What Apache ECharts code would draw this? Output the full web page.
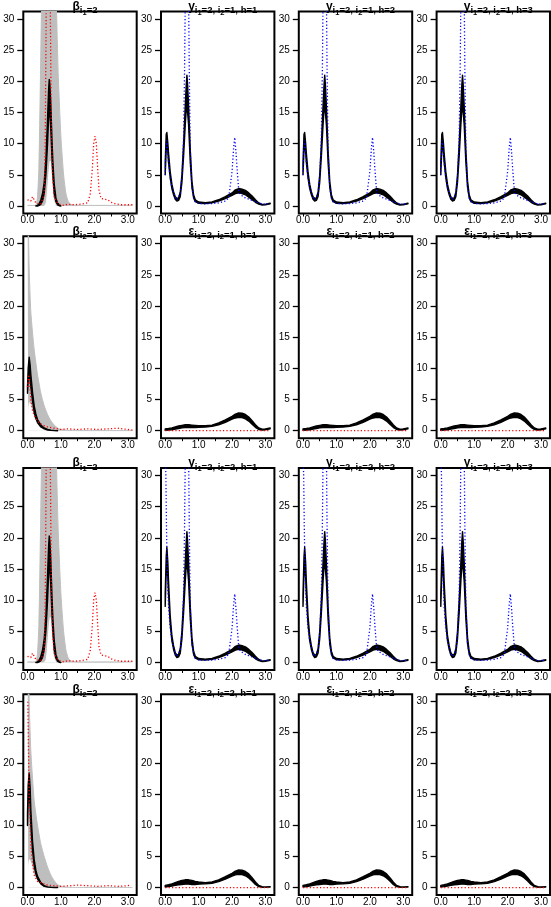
<!DOCTYPE html>
<html>
<head>
<meta charset="utf-8">
<script src="https://cdn.jsdelivr.net/npm/echarts@6/dist/echarts.min.js"></script>
<style>
  html, body { margin: 0; background: #fff; }
  #chart { width: 551px; height: 907px; }
</style>
</head>
<body>
<div id="chart"></div>
<script>
// axis ticks
const xTickVals = [0, 0.5, 1, 1.5, 2, 2.5, 3];
const xLabelVals = [0, 1, 2, 3];
const yTickVals = [0, 5, 10, 15, 20, 25, 30];

// beta_{i1=2}: grey band, white lower part, black draws, red dotted truth
const betaAX = [0, 0.1, 0.2, 0.26, 0.3, 0.34, 0.38, 0.42, 0.5, 0.65, 0.8, 0.87, 0.92, 1.0, 1.08, 1.15, 1.22, 1.3, 1.5, 2.0, 2.5, 3.14];
const betaAUp = [0.1, 0.1, 0.1, 0.2, 1.5, 6, 18, 32, 50, 60, 45, 31, 21, 11, 5, 2, 0.7, 0.25, 0.1, 0.1, 0.1, 0.1];
const betaALowX = [0.5, 0.56, 0.6, 0.65, 0.68, 0.72, 0.78, 0.85];
const betaALow = [0, 0.5, 2.5, 6, 7.2, 4.5, 1, 0];
const betaABlkX = [0.25, 0.3, 0.35, 0.4, 0.45, 0.5, 0.55, 0.6, 0.63, 0.65, 0.67, 0.7, 0.73, 0.76, 0.8, 0.85, 0.9, 0.95, 1.0];
const betaABlkLo = [0, 0, 0.1, 0.3, 0.8, 2, 5, 10, 14, 15.5, 15, 12, 8, 5, 2, 0.7, 0.2, 0.05, 0];
const betaABlkHi = [0, 0.1, 0.4, 1.0, 2, 3.8, 7.5, 14, 18.5, 20.3, 19.5, 16, 11, 7, 3.5, 1.3, 0.5, 0.15, 0];
const betaATrueX = [0, 0.05, 0.1, 0.15, 0.2, 0.25, 0.3, 0.4, 0.5, 0.53, 0.56, 0.62, 0.68, 0.71, 0.75, 0.8, 0.9, 1.0, 1.1, 1.2, 1.4, 1.6, 1.8, 1.88, 1.94, 1.98, 2.02, 2.06, 2.1, 2.14, 2.2, 2.3, 2.4, 2.5, 2.6, 2.8, 3.0, 3.14];
const betaATrue = [1, 1.2, 0.8, 1.5, 1.2, 0.5, 0.2, 0.3, 2, 10, 32, 50, 34, 14, 5, 1.5, 0.5, 0.2, 0.1, 0.3, 0.2, 0.3, 0.5, 2, 6, 10, 11.2, 10, 6, 2.5, 1.2, 1.1, 1.0, 0.6, 0.4, 0.2, 0.2, 0.2];

// beta_{i2=1} and beta_{i2=2}: decaying densities
const betaBX = [0, 0.02, 0.05, 0.1, 0.2, 0.3, 0.4, 0.5, 0.6, 0.7, 0.8, 0.9, 1.0, 1.2, 1.5, 2.0, 2.5, 3.14];
const betaBUp1 = [45, 35, 26, 19, 13, 9, 6, 4, 2.6, 1.6, 0.9, 0.45, 0.2, 0.05, 0.02, 0.02, 0.02, 0.02];
const betaBUp2 = [50, 40, 30, 22, 14, 10, 7, 5, 3.3, 2, 1.1, 0.5, 0.2, 0.05, 0.02, 0.02, 0.02, 0.02];
const betaBLowX = [0, 0.03, 0.06, 0.1, 0.15, 0.2, 0.3, 0.4, 0.5, 0.7];
const betaBLow1 = [1, 3.5, 4.5, 4, 3, 2, 1, 0.5, 0.2, 0];
const betaBLow2 = [1, 3.5, 4.5, 4, 3, 2, 1, 0.4, 0.15, 0];
const betaBBlkX = [0, 0.02, 0.05, 0.08, 0.1, 0.15, 0.2, 0.25, 0.3, 0.4, 0.5, 0.6, 0.7, 0.8, 0.9];
const betaBBlkLo1 = [6, 8, 9, 8, 7, 4.8, 3.0, 2.0, 1.3, 0.6, 0.3, 0.12, 0.05, 0.02, 0];
const betaBBlkHi1 = [7, 10, 11.8, 10.5, 9, 6.2, 4.0, 2.7, 1.8, 0.9, 0.45, 0.2, 0.1, 0.03, 0];
const betaBBlkLo2 = [10, 14, 15, 13, 10, 6, 3.5, 2.2, 1.4, 0.6, 0.2, 0.08, 0.03, 0, 0];
const betaBBlkHi2 = [12, 16.5, 18.5, 16, 12.5, 7.5, 4.5, 2.8, 1.8, 0.8, 0.3, 0.12, 0.05, 0.01, 0];
const betaBTrueX1 = [0, 0.03, 0.05, 0.08, 0.1, 0.15, 0.2, 0.25, 0.3, 0.4, 0.5, 0.6, 0.8, 1.0, 1.2, 1.5, 1.8, 2.1, 2.4, 2.7, 3.0, 3.14];
const betaBTrue1 = [7, 9, 8.5, 6.5, 5, 3.2, 2.5, 2, 1.5, 1.1, 0.8, 0.6, 0.4, 0.2, 0.3, 0.2, 0.3, 0.2, 0.3, 0.4, 0.2, 0.1];
const betaBTrueX2 = [0.01, 0.03, 0.05, 0.08, 0.1, 0.15, 0.2, 0.3, 0.4, 0.5, 0.6, 0.8, 1.0, 1.3, 1.5, 1.8, 2.1, 2.4, 2.7, 3.0, 3.1];
const betaBTrue2 = [30, 22, 15, 10, 7, 4, 2, 1, 0.8, 0.6, 0.4, 0.3, 0.2, 0.3, 0.4, 0.3, 0.2, 0.3, 0.2, 0.3, 0.4];

// y panels: black draws band and blue dotted observed density
const yX = [0, 0.03, 0.05, 0.08, 0.1, 0.15, 0.2, 0.25, 0.3, 0.35, 0.4, 0.45, 0.5, 0.55, 0.6, 0.63, 0.65, 0.67, 0.7, 0.75, 0.8, 0.85, 0.9, 1.0, 1.2, 1.4, 1.6, 1.8, 2.0, 2.1, 2.2, 2.3, 2.4, 2.5, 2.6, 2.7, 2.8, 2.9, 3.0, 3.14];
const yLo1 = [5, 9, 10, 8.5, 7, 4.5, 2.8, 1.8, 1.1, 0.8, 0.9, 1.5, 3.8, 8, 13, 15.5, 15.5, 15, 13, 7, 3, 1.3, 0.7, 0.45, 0.4, 0.5, 0.8, 1.2, 1.7, 2.0, 2.1, 2.0, 1.8, 1.4, 1.0, 0.6, 0.3, 0.15, 0.2, 0.35];
const yHi1 = [7, 11.5, 11.8, 10, 8.5, 5.5, 3.5, 2.3, 1.5, 1.2, 1.3, 2.2, 5, 10, 16, 19.5, 21, 19.5, 16, 9, 4, 1.8, 1.0, 0.65, 0.55, 0.65, 1.0, 1.5, 2.1, 2.6, 2.8, 2.7, 2.5, 2.1, 1.6, 1.0, 0.5, 0.25, 0.3, 0.45];
const yLo2 = [9, 14.5, 15.5, 13.5, 11, 6.2, 3.5, 2.1, 1.2, 0.8, 0.9, 1.5, 3.8, 8, 13, 15.5, 15.5, 15, 13, 7, 3, 1.3, 0.7, 0.45, 0.4, 0.5, 0.8, 1.2, 1.7, 2.0, 2.1, 2.0, 1.8, 1.4, 1.0, 0.6, 0.3, 0.15, 0.2, 0.35];
const yHi2 = [11, 17, 18.5, 16, 13, 7.5, 4.3, 2.7, 1.6, 1.2, 1.3, 2.2, 5, 10, 16, 19.5, 21, 19.5, 16, 9, 4, 1.8, 1.0, 0.65, 0.55, 0.65, 1.0, 1.5, 2.1, 2.6, 2.8, 2.7, 2.5, 2.1, 1.6, 1.0, 0.5, 0.25, 0.3, 0.45];
const blueX = [0, 0.02, 0.04, 0.07, 0.1, 0.15, 0.2, 0.3, 0.35, 0.4, 0.45, 0.5, 0.55, 0.58, 0.6, 0.65, 0.7, 0.72, 0.75, 0.8, 0.85, 0.9, 1.0, 1.2, 1.4, 1.6, 1.8, 1.9, 2.0, 2.05, 2.08, 2.12, 2.15, 2.2, 2.25, 2.3, 2.4, 2.5, 2.6, 2.7, 2.8, 2.9, 3.0, 3.14];
const blue1 = [5, 9, 10.5, 9, 7, 4.5, 3, 1.5, 1.0, 1.1, 2, 4.5, 11, 22, 33, 45, 34, 22, 9, 3, 1.3, 0.7, 0.4, 0.35, 0.4, 0.5, 0.8, 1.3, 5.5, 9.5, 11, 8.5, 6, 2.5, 1.8, 1.6, 1.3, 1.1, 0.9, 0.7, 0.5, 0.3, 0.3, 0.4];
const blue2 = [34, 30, 21, 13, 9, 5.5, 3.5, 1.5, 1.0, 1.1, 2, 4.5, 11, 22, 33, 45, 34, 22, 9, 3, 1.3, 0.7, 0.4, 0.35, 0.4, 0.5, 0.8, 1.3, 5.5, 9.5, 11, 8.5, 6, 2.5, 1.8, 1.6, 1.3, 1.1, 0.9, 0.7, 0.5, 0.3, 0.3, 0.4];

// epsilon panels: black draws band, red dotted at zero
const epsX = [0, 0.1, 0.2, 0.3, 0.4, 0.5, 0.6, 0.7, 0.8, 0.9, 1.0, 1.2, 1.4, 1.6, 1.8, 2.0, 2.1, 2.2, 2.3, 2.4, 2.5, 2.6, 2.7, 2.8, 2.9, 3.0, 3.14];
const epsLo1 = [0.05, 0.1, 0.15, 0.25, 0.35, 0.45, 0.5, 0.5, 0.5, 0.5, 0.55, 0.6, 0.7, 0.95, 1.35, 1.85, 2.05, 2.15, 2.1, 1.9, 1.55, 1.05, 0.55, 0.2, 0.1, 0.15, 0.3];
const epsHi1 = [0.3, 0.35, 0.45, 0.6, 0.75, 0.85, 0.95, 0.95, 0.9, 0.85, 0.8, 0.8, 0.9, 1.25, 1.75, 2.3, 2.65, 2.85, 2.8, 2.6, 2.2, 1.6, 0.95, 0.45, 0.25, 0.3, 0.45];
const epsLo2 = [0.1, 0.15, 0.25, 0.35, 0.45, 0.5, 0.55, 0.55, 0.5, 0.5, 0.55, 0.6, 0.7, 0.95, 1.35, 1.85, 2.05, 2.15, 2.1, 1.9, 1.55, 1.05, 0.5, 0.15, 0.05, 0.05, 0.1];
const epsHi2 = [0.35, 0.45, 0.6, 0.8, 1.0, 1.15, 1.25, 1.25, 1.15, 1.0, 0.9, 0.8, 0.9, 1.25, 1.75, 2.3, 2.65, 2.85, 2.8, 2.6, 2.2, 1.6, 0.9, 0.35, 0.15, 0.1, 0.15];
const epsTrueX = [0, 1, 2, 3.14];
const epsTrue = [0, 0, 0, 0];

// layout
const colLeft = [23.3, 161, 298.8, 436.6];
const rowTop = [11.5, 236.2, 468, 694.2];
const PW = 113.4, PH = 202;
const FONT = 'Liberation Sans';

const pairs = (xs, ys) => xs.map((x, i) => [x, ys[i]]);

const grids = [], xAxes = [], yAxes = [], series = [], titles = [];

const area = (xs, ys, color) => ({
  type: 'line', data: pairs(xs, ys), showSymbol: false, smooth: 0.2, z: 2,
  lineStyle: { color, width: 1 }, areaStyle: { color, opacity: 1 }
});

// filled band between lo and hi, drawn as one polygon through the axes
const band = (xs, lo, hi) => ({
  type: 'custom', z: 3,
  data: xs.map((x, i) => [x, lo[i], hi[i]]),
  encode: { x: 0, y: [1, 2] },
  renderItem: (params, api) => {
    if (params.dataIndex !== 0) return null;
    const top = xs.map((x, i) => api.coord([x, hi[i]]));
    const bot = xs.map((x, i) => api.coord([x, lo[i]])).reverse();
    const pts = echarts.graphic.clipPointsByRect(top.concat(bot), params.coordSys);
    return {
      type: 'polygon',
      shape: { points: pts },
      style: { fill: '#000', stroke: '#000', lineWidth: 1.4, lineJoin: 'round' }
    };
  }
});

const dotted = (xs, ys, color) => ({
  type: 'line', data: pairs(xs, ys), showSymbol: false, z: 4,
  lineStyle: { color, width: 1.3, type: [1.2, 2.2] }
});

function addPanel(r, c, titleText, layers) {
  const i = grids.length;
  grids.push({ left: colLeft[c], top: rowTop[r], width: PW, height: PH, show: true,
    borderColor: '#000', borderWidth: 2, backgroundColor: 'transparent' });
  xAxes.push({
    type: 'value', gridIndex: i, min: -0.1257, max: 3.2673,
    axisLine: { show: false, onZero: false },
    axisTick: { show: true, customValues: xTickVals, length: 3, lineStyle: { color: '#000', width: 1 } },
    axisLabel: { customValues: xLabelVals, formatter: v => v.toFixed(1), fontSize: 10,
      color: '#000', margin: 2, fontFamily: FONT },
    splitLine: { show: false }
  });
  yAxes.push({
    type: 'value', gridIndex: i, min: -1.2, max: 31.2,
    axisLine: { show: false, onZero: false },
    axisTick: { show: true, customValues: yTickVals, length: 6, lineStyle: { color: '#000', width: 1.3 } },
    axisLabel: { customValues: yTickVals, fontSize: 10, color: '#000', margin: 9, fontFamily: FONT },
    splitLine: { show: false }
  });
  layers.forEach(l => series.push(Object.assign({ xAxisIndex: i, yAxisIndex: i, silent: true }, l)));
  titles.push({
    text: titleText, left: colLeft[c] + PW / 2, top: rowTop[r] - 16, textAlign: 'center',
    textStyle: {
      rich: {
        m: { fontSize: 12, lineHeight: 14, verticalAlign: 'top', fontFamily: FONT, color: '#000' },
        s: { fontSize: 9.5, lineHeight: 10, padding: [5, 0, 0, 0], verticalAlign: 'top', fontFamily: FONT, color: '#000' },
        t: { fontSize: 7.5, lineHeight: 8, padding: [8, 0, 0, 0], verticalAlign: 'top', fontFamily: FONT, color: '#000' }
      }
    }
  });
}

const sub = (a, b) => '{s|i}{t|' + a + '}{s|=' + b + '}';
const sub3 = (i2, h) => '{s|i}{t|1}{s|=2, i}{t|2}{s|=' + i2 + ', h=' + h + '}';

// row 0
addPanel(0, 0, '{m|β}' + sub(1, 2), [
  area(betaAX, betaAUp, '#bebebe'), area(betaALowX, betaALow, '#ffffff'),
  band(betaABlkX, betaABlkLo, betaABlkHi), dotted(betaATrueX, betaATrue, '#ff0000')
]);
[1, 2, 3].forEach(h => addPanel(0, h, '{m|y}' + sub3(1, h), [
  band(yX, yLo1, yHi1), dotted(blueX, blue1, '#0000ff')
]));
// row 1
addPanel(1, 0, '{m|β}' + sub(2, 1), [
  area(betaBX, betaBUp1, '#bebebe'), area(betaBLowX, betaBLow1, '#ffffff'),
  band(betaBBlkX, betaBBlkLo1, betaBBlkHi1), dotted(betaBTrueX1, betaBTrue1, '#ff0000')
]);
[1, 2, 3].forEach(h => addPanel(1, h, '{m|ε}' + sub3(1, h), [
  band(epsX, epsLo1, epsHi1), dotted(epsTrueX, epsTrue, '#ff0000')
]));
// row 2
addPanel(2, 0, '{m|β}' + sub(1, 2), [
  area(betaAX, betaAUp, '#bebebe'), area(betaALowX, betaALow, '#ffffff'),
  band(betaABlkX, betaABlkLo, betaABlkHi), dotted(betaATrueX, betaATrue, '#ff0000')
]);
[1, 2, 3].forEach(h => addPanel(2, h, '{m|y}' + sub3(2, h), [
  band(yX, yLo2, yHi2), dotted(blueX, blue2, '#0000ff')
]));
// row 3
addPanel(3, 0, '{m|β}' + sub(2, 2), [
  area(betaBX, betaBUp2, '#bebebe'), area(betaBLowX, betaBLow2, '#ffffff'),
  band(betaBBlkX, betaBBlkLo2, betaBBlkHi2), dotted(betaBTrueX2, betaBTrue2, '#ff0000')
]);
[1, 2, 3].forEach(h => addPanel(3, h, '{m|ε}' + sub3(2, h), [
  band(epsX, epsLo2, epsHi2), dotted(epsTrueX, epsTrue, '#ff0000')
]));

const chart = echarts.init(document.getElementById('chart'));
chart.setOption({
  backgroundColor: '#fff',
  animation: false,
  title: titles,
  grid: grids,
  xAxis: xAxes,
  yAxis: yAxes,
  series: series
});
</script>
</body>
</html>
